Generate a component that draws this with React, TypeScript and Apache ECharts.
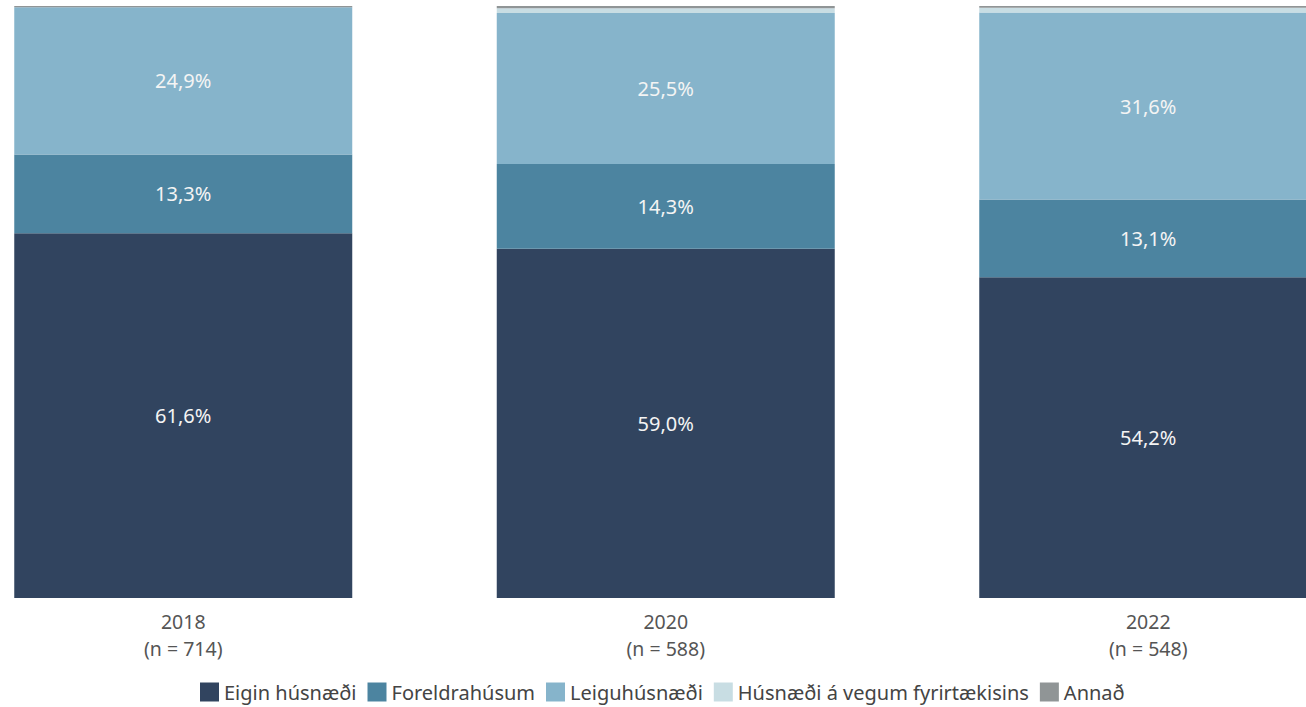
import React, { useEffect, useRef } from "react";
import * as echarts from "echarts";

const years = ["2018", "2020", "2022"];
const sampleSizes = [714, 588, 548];
const seriesNames = [
  "Eigin húsnæði",
  "Foreldrahúsum",
  "Leiguhúsnæði",
  "Húsnæði á vegum fyrirtækisins",
  "Annað",
];
const eigin = [61.6, 59.0, 54.2];
const foreldra = [13.3, 14.3, 13.1];
const leigu = [24.9, 25.5, 31.6];
const fyrirtaeki = [0.0, 0.8, 0.8];
const annad = [0.2, 0.4, 0.3];
const colors = ["#31445f", "#4c84a0", "#86b4cb", "#c8dde3", "#909596"];

const FONT = "Noto Sans";

export default function App() {
  const ref = useRef<HTMLDivElement>(null);
  useEffect(() => {
    if (!ref.current) return;
    const chart = echarts.init(ref.current, undefined, { renderer: "svg" });
    const values = [eigin, foreldra, leigu, fyrirtaeki, annad];
    const fmt = (p: any) => Number(p.value).toFixed(1).replace(".", ",") + "%";
    chart.setOption({
      animation: false,
      textStyle: { fontFamily: FONT },
      color: colors,
      grid: { left: 42, width: 1447.5, top: 6, height: 592 },
      legend: {
        left: 295,
        top: 677,
        icon: "rect",
        itemWidth: 19,
        itemHeight: 19,
        itemGap: 11,
        textStyle: { fontFamily: FONT, fontSize: 20, color: "#444" },
        data: seriesNames,
      },
      xAxis: {
        type: "category",
        data: years.map((y, i) => y + "\n(n = " + sampleSizes[i] + ")"),
        axisLine: { show: false },
        axisTick: { show: false },
        axisLabel: {
          margin: 10,
          fontFamily: FONT,
          fontSize: 19.5,
          lineHeight: 27,
          color: "#555",
        },
      },
      yAxis: { type: "value", min: 0, max: 100, show: false, splitLine: { show: false } },
      series: seriesNames.map((name, i) => ({
        name,
        type: "bar",
        stack: "total",
        barWidth: 338,
        data: values[i],
        itemStyle: { color: colors[i] },
        label: {
          show: i < 3,
          position: "inside",
          formatter: fmt,
          color: "#f4f4f4",
          fontFamily: FONT,
          fontSize: 20,
        },
      })),
    });
    return () => chart.dispose();
  }, []);
  return (
    <div style={{ position: "fixed", left: 0, top: 0, width: 1306, height: 707, overflow: "hidden", background: "#fff" }}>
      <div ref={ref} style={{ position: "absolute", left: -100, top: 0, width: 1550, height: 707 }} />
    </div>
  );
}
